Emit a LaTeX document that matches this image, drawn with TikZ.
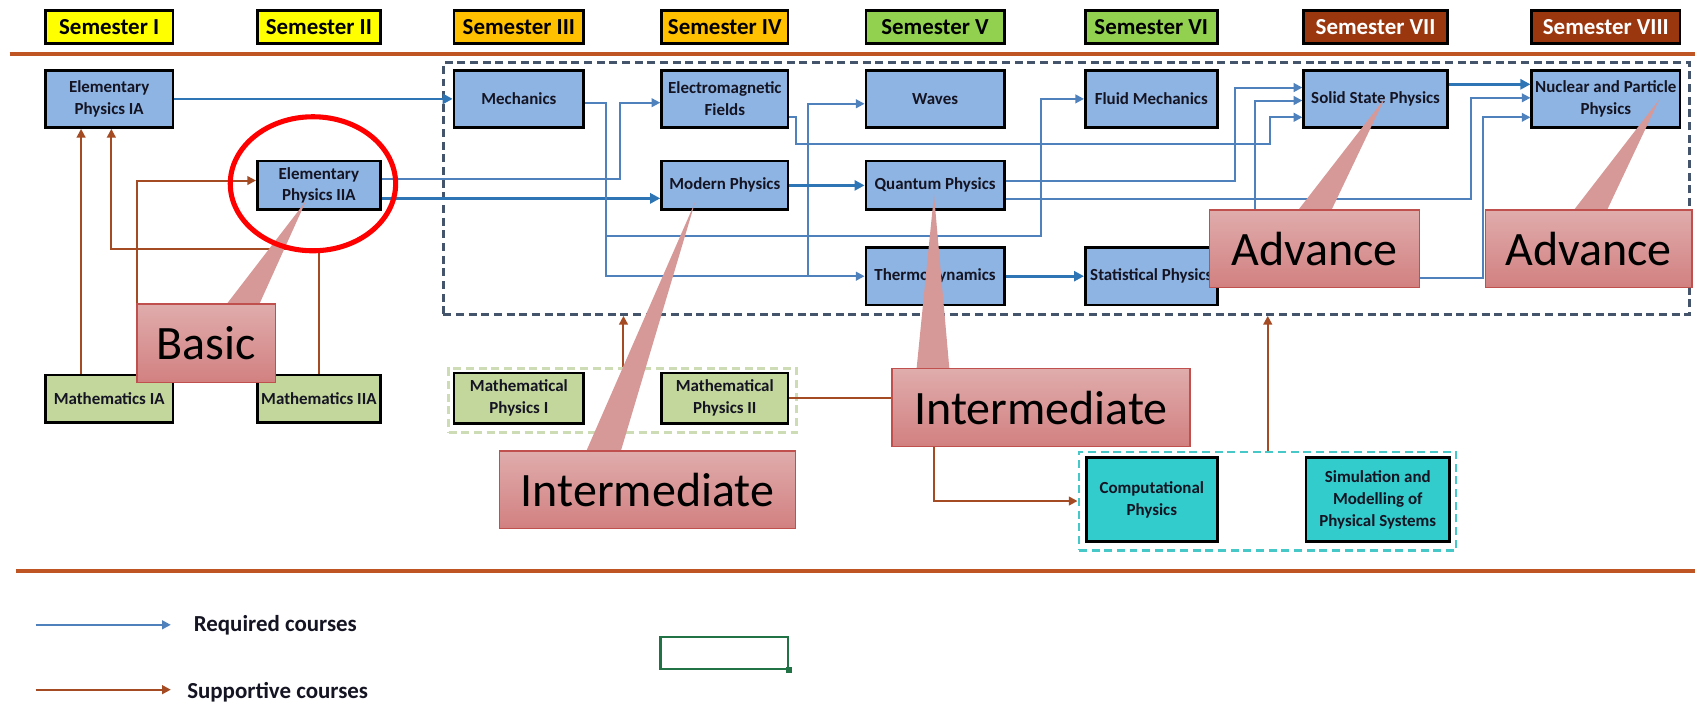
\documentclass[tikz,border=0pt]{standalone}
\usepackage{fontspec}
\setmainfont{Carlito}
\usetikzlibrary{arrows.meta,calc,shapes.geometric,shadings}
\definecolor{nblue}{RGB}{142,180,227}
\definecolor{ngreen}{RGB}{195,214,155}
\definecolor{nteal}{RGB}{51,204,204}
\definecolor{txt}{RGB}{20,20,35}
\definecolor{rblue}{RGB}{79,129,189}
\definecolor{rblue2}{RGB}{46,117,182}
\definecolor{sbrown}{RGB}{165,75,35}
\definecolor{hline}{RGB}{190,85,35}
\definecolor{dashblue}{RGB}{68,84,106}
\definecolor{dashgreen}{RGB}{205,220,180}
\definecolor{dashteal}{RGB}{70,200,200}
\definecolor{semyellow}{RGB}{255,255,0}
\definecolor{semorange}{RGB}{255,192,0}
\definecolor{semgreen}{RGB}{146,208,80}
\definecolor{sembrown}{RGB}{155,55,15}
\definecolor{ctop}{RGB}{224,172,172}
\definecolor{cbot}{RGB}{210,128,128}
\definecolor{cwedge}{RGB}{215,152,152}
\definecolor{cborder}{RGB}{192,80,77}
\definecolor{xlgreen}{RGB}{33,115,70}
\newcommand{\mybox}[7]{%
  \node[#2, minimum width={(#5-#3)*0.811pt}, minimum height={(#6-#4)*0.811pt}] (#1) at ({(#3+#5)/2},{(#4+#6)/2}) {#7};}
\begin{document}
\begin{tikzpicture}[x=0.811pt,y=-0.811pt,
  semstyle/.style={draw=black,line width=2pt,inner sep=0pt,font=\fontsize{17.2}{19}\selectfont\bfseries},
  bnode/.style={draw=black,line width=2pt,fill=nblue,inner sep=0pt,align=center,text=txt,font=\fontsize{12.7}{16.5}\selectfont\bfseries},
  gnode/.style={bnode,fill=ngreen},
  tnode/.style={bnode,fill=nteal},
  grp/.style={line width=2pt,dash pattern=on 6pt off 3.5pt,inner sep=0pt},
  req/.style={draw=rblue,line width=1.5pt,-{Triangle[length=6.5pt,width=6.5pt]}},
  reqk/.style={draw=rblue2,line width=2.1pt,-{Triangle[length=7.5pt,width=7.5pt]}},
  sup/.style={draw=sbrown,line width=1.5pt,-{Triangle[length=6.5pt,width=6.5pt]}},
  callbox/.style={draw=cborder,line width=1.2pt,top color=ctop,bottom color=cbot,inner sep=0pt,font=\fontsize{36}{38}\selectfont},
  legendtxt/.style={inner sep=0pt,anchor=west,font=\fontsize{17.2}{19}\selectfont\bfseries,text=txt}
]
\useasboundingbox[fill=white] (0,0) rectangle (1568,650);

% group frames
\mybox{bluegrp}{grp,draw=dashblue}{410}{58}{1563}{291}{}
\mybox{greengrp}{grp,draw=dashgreen}{415}{341}{737}{400}{}
\mybox{tealgrp}{grp,draw=dashteal}{998}{418}{1347}{509}{}

% separator lines
\coordinate (tl1) at (9,50);
\coordinate (tl2) at (1568,50);
\coordinate (bl1) at (15,528);
\coordinate (bl2) at (1568,528);
\draw[hline,line width=3.2pt] (tl1) -- (tl2);
\draw[hline,line width=3.2pt] (bl1) -- (bl2);

% semesters
\mybox{s1}{semstyle,fill=semyellow}{42}{10}{160}{40}{Semester I}
\mybox{s2}{semstyle,fill=semyellow}{238}{10}{352}{40}{Semester II}
\mybox{s3}{semstyle,fill=semorange}{420}{10}{540}{40}{Semester III}
\mybox{s4}{semstyle,fill=semorange}{612}{10}{729}{40}{Semester IV}
\mybox{s5}{semstyle,fill=semgreen}{801}{10}{929}{40}{Semester V}
\mybox{s6}{semstyle,fill=semgreen}{1004}{10}{1126}{40}{Semester VI}
\mybox{s7}{semstyle,fill=sembrown,text=white}{1206}{10}{1339}{40}{Semester VII}
\mybox{s8}{semstyle,fill=sembrown,text=white}{1417}{10}{1554}{40}{Semester VIII}

% courses
\mybox{ep1}{bnode}{42}{65}{160}{118}{Elementary\\Physics IA}
\mybox{mech}{bnode}{420}{65}{540}{118}{Mechanics}
\mybox{emf}{bnode}{612}{65}{729}{118}{Electromagnetic\\Fields}
\mybox{waves}{bnode}{801}{65}{929}{118}{Waves}
\mybox{fluid}{bnode}{1004}{65}{1126}{118}{Fluid Mechanics}
\mybox{solid}{bnode}{1206}{65}{1339}{118}{Solid State Physics}
\mybox{nuc}{bnode}{1417}{65}{1554}{118}{Nuclear and Particle\\Physics}
\mybox{ep2}{bnode}{238}{149}{352}{194}{Elementary\\Physics IIA}
\mybox{modern}{bnode}{612}{149}{729}{194}{Modern Physics}
\mybox{quantum}{bnode}{801}{149}{929}{194}{Quantum Physics}
\mybox{thermo}{bnode}{801}{229}{929}{282}{Thermodynamics}
\mybox{stat}{bnode}{1004}{229}{1126}{282}{Statistical Physics}
\mybox{m1}{gnode}{42}{347}{160}{391}{Mathematics IA}
\mybox{m2}{gnode}{238}{347}{352}{391}{Mathematics IIA}
\mybox{mp1}{gnode}{420}{345}{540}{392}{Mathematical\\Physics I}
\mybox{mp2}{gnode}{612}{345}{729}{392}{Mathematical\\Physics II}
\mybox{comp}{tnode}{1005}{423}{1126}{501}{Computational\\Physics}
\mybox{sim}{tnode}{1208}{423}{1341}{501}{Simulation and\\Modelling of\\Physical Systems}

% required (blue) connectors
\coordinate (jm1) at (561,218);
\coordinate (jm2) at (561,255.5);
\coordinate (jw) at (747,255.5);
\coordinate (je) at (1175,133);
\draw[reqk] (ep1.east) -- (mech.west);
\draw[req] ($(ep2.east)+(0,-5.5)$) -| ($(emf.west)+(-37,3.5)$) -- ($(emf.west)+(0,3.5)$);
\draw[reqk] ($(ep2.east)+(0,12)$) -- ($(modern.west)+(0,12)$);
\draw[req] ($(mech.east)+(0,3.5)$) -| (jm2) -- (thermo.west);
\draw[req] (jm1) -| ($(fluid.west)+(-40,0)$) -- (fluid.west);
\draw[req] (jw) |- ($(waves.west)+(0,4.5)$);
\draw[req] ($(emf.east)+(0,16.5)$) -- ++(6,0) |- (je) |- ($(solid.west)+(0,17)$);
\draw[reqk] (modern.east) -- (quantum.west);
\draw[req] ($(quantum.east)+(0,-4.5)$) -| ($(solid.west)+(-62,-10.5)$) -- ($(solid.west)+(0,-10.5)$);
\draw[req] ($(quantum.east)+(0,13)$) -| ($(nuc.west)+(-55,-1)$) -- ($(nuc.west)+(0,-1)$);
\draw[req] (stat.east) -| ($(solid.west)+(-44,1.5)$) -- ($(solid.west)+(0,1.5)$);
\draw[req] ($(stat.east)+(0,1.5)$) -| ($(nuc.west)+(-44,17)$) -- ($(nuc.west)+(0,17)$);
\draw[reqk] ($(solid.east)+(0,-13.5)$) -- ($(nuc.west)+(0,-13.5)$);
\draw[reqk] (thermo.east) -- (stat.west);

% supportive (brown) connectors
\draw[sup] ($(m1.north)+(-26,0)$) -- ($(ep1.south)+(-26,0)$);
\draw[sup] (m2.north) -- ($(m2.north)+(0,-115)$) -| ($(ep1.south)+(2,0)$);
\draw[sup] ($(m1.north)+(26,0)$) |- ($(ep2.west)+(0,-4.5)$);
\draw[sup] ($(greengrp.north west)+(163,0)$) -- ($(bluegrp.south west)+(168,0)$);
\draw[sup] (mp2.east) -| ($(tealgrp.west)+(-133,0)$) -- (tealgrp.west);
\draw[sup] ($(tealgrp.north west)+(176,0)$) -- ($(bluegrp.south west)+(764,0)$);

% callouts
\fill[cwedge] (203,290) -- (283,186) -- (236,290) -- cycle;
\mybox{cbasic}{callbox}{127}{281}{255}{354}{Basic}
\fill[cwedge] (539,425) -- (643,187) -- (572,425) -- cycle;
\mybox{cint1}{callbox}{462}{417}{736}{489}{Intermediate}
\fill[cwedge] (847,350) -- (864,180) -- (879,350) -- cycle;
\mybox{cint2}{callbox}{825}{341}{1101}{413}{Intermediate}
\fill[cwedge] (1195,202) -- (1281,91) -- (1228,202) -- cycle;
\mybox{cadv1}{callbox}{1119}{194}{1313}{266}{Advance}
\fill[cwedge] (1450,202) -- (1535,92) -- (1483,202) -- cycle;
\mybox{cadv2}{callbox}{1374}{194}{1565}{266}{Advance}

% highlight ellipse
\node[draw=red,line width=3.8pt,ellipse,inner sep=0pt,minimum width={153*0.811pt},minimum height={124*0.811pt}] (hl) at (289.5,170) {};

% legend
\coordinate (la1) at (33,578);
\coordinate (la2) at (33,638);
\node[legendtxt] (lreq) at (179,578) {Required courses};
\node[legendtxt] (lsup) at (173,640) {Supportive courses};
\draw[req] (la1) -- ($(lreq.west)+(-21,0)$);
\draw[sup] (la2) -- ($(lsup.west)+(-15,-2)$);

% spreadsheet cell marker
\mybox{cell}{draw=xlgreen,line width=1.6pt,inner sep=0pt}{611}{589}{729}{619}{}
\fill[xlgreen] ($(cell.south east)+(-3,-3)$) rectangle ($(cell.south east)+(3,3)$);
\end{tikzpicture}
\end{document}
